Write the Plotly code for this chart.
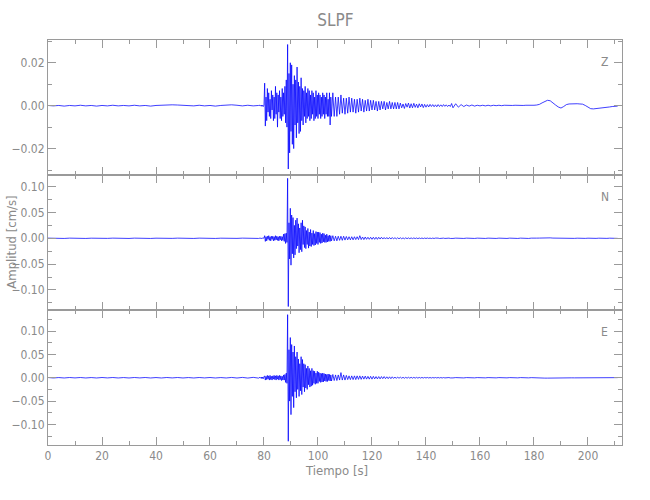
import numpy as np
import plotly.graph_objects as go
from plotly.subplots import make_subplots

# ---------------- data (amplitudes in units of 1e-3 cm/s) ----------------
# sampling segments: (start time [s], step [s])
seg_starts = [0.0, 78.5, 105.5, 130.5, 151.0]
seg_steps = [2.0, 0.25, 0.5, 0.5, 1.0]

z_A = [0.1, -0.1, 0.1, -0.2, 0.1, -0.1, 0.2, -0.1, 0.1, -0.2,
       0.1, -0.1, 0.2, -0.1, 0.1, -0.1, 0.2, -0.1, 0.1, -0.2,
       0.1, 0.3, 0.5, 0.4, 0.3, 0.2, 0.1, -0.1, 0.2, -0.1,
       0.1, -0.2, 0.1, 0.3, 0.4, 0.2, -0.1, 0.2, -0.1, 0.1]
z_B = [0.2, -0.2, 0.3, -0.3, 0.2, -0.4, 0.3,
       10.5, -9.5, 4, -7, 8, -3, 6, -5,
       3, -6, 7, -2, 5, -7, 4, -6,
       9, -4, 6, -10, 5, -3, 7, -6,
       4, -7, 8, -5, 6, -4, 9, -8,
       12, -10, 28.5, -29.5, 15, -22, 20, -12,
       19, -18, 10, -20, 14, -9, 12, -15,
       18, -8, 11, -13, 9, -12, 13, -7,
       8, -9, 7, -5, 9, -8, 6, -6,
       8, -5, 7, -7, 5, -6, 7, -4,
       6, -7, 4, -6, 7, -5, 5, -6,
       6, -4, 5, -6, 4, -5, 6, -4,
       5, -6, 4, -4, 6, -5, 3, -5,
       6, -9, 4, -5]
z_C = [6, -5, 4, -5, 4, -4, 5, -3.5, 3.5, -4,
       3.5, -3.5, 4, -3, 3.5, -3, 3, -3.5, 3, -3,
       3.5, -2.5, 3, -3, 2.5, -2.5, 3, -2.5, 2.5, -2,
       2.5, -2, 2, -2.5, 2, -2, 2, -1.5, 2, -2,
       1.5, -1.5, 2, -1.5, 1.5, -1.5, 1.5, -1.5, 1.5, -1.5]
z_D = [1.2, -1.0, 0.8, -1.3, 1.0, -0.7, 1.2, -1.1, 0.9, -1.0,
       1.1, -0.8, 0.7, -1.0, 0.9, -0.6, 0.8, -0.9, 0.6, -0.7,
       0.5, -0.6, 0.6, -0.4, 0.5, -0.5, 0.4, -0.5, 0.5, -0.4,
       0.4, -0.4, 0.5, -0.3, 0.4, -0.4, 0.3, -0.4, 1.0, -1.0]
z_E = [0.9, -0.7, 0.5, -0.4, 0.3, -0.2, 0.3, -0.2, 0.2, -0.1,
       0.2, -0.1, 0.2, -0.1, 0.2, 0.0, 0.2, 0.0, 0.2, 0.1,
       0.2, 0.1, 0.2, 0.1, 0.2, 0.1, 0.2, 0.1, 0.2, 0.2,
       0.3, 0.6, 1.3, 2.0, 2.5, 2.3, 1.5, 0.3, -0.6, -1.1,
       -0.4, 0.5, 0.8, 0.9, 0.9, 0.9, 0.8, 0.7, 0.1, -0.8,
       -1.4, -1.5, -1.4, -1.2, -1.1, -0.9, -0.7, -0.6, -0.4, -0.3,
       -0.2]

n_A = [0.3, -0.3, 0.2, -0.3, 0.3, -0.2, 0.3, -0.3, 0.2, -0.3,
       0.3, -0.2, 0.3, -0.3, 0.2, -0.3, 0.3, -0.2, 0.3, -0.3,
       0.2, -0.3, 0.3, -0.2, 0.3, -0.3, 0.2, -0.3, 0.3, -0.2,
       0.3, -0.3, 0.2, -0.3, 0.3, -0.2, 0.3, -0.3, 0.2, -0.3]
n_B = [0.3, -0.3, 0.3, -0.4, 0.3, -0.3, 0.4,
       5, -6, 3, -5, 4, -2, 5, -4,
       3, -5, 4, -2, 4, -5, 3, -4,
       5, -3, 4, -4, 3, -5, 4, -3,
       4, -5, 3, -4, 8, -6, 9, -10,
       10, -8, 116, -132, 30, -40, 58, -52,
       45, -30, 40, -38, 25, -32, 35, -20,
       39, -15, 28, -28, 20, -22, 30, -26,
       35, -12, 24, -18, 22, -20, 15, -12,
       19, -19, 12, -15, 17, -16, 10, -12,
       15, -14, 9, -13, 13, -10, 12, -12,
       12, -8, 11, -10, 8, -9, 10, -7,
       9, -8, 6, -8, 8, -7, 5, -6,
       6, -6, 5, -5]
n_C = [5, -5, 4, -5, 4, -4, 4, -4, 4, -3.5,
       3.5, -3, 3, -3, 3, -3, 3, -2.5, 3, -2.5,
       5, -2.5, 2.5, -2.5, 2.5, -2, 2, -2, 2, -2,
       2, -2, 2, -2, 2, -1.5, 2, -1.5, 1.5, -1.5,
       1.5, -1.5, 1.5, -1.5, 1.5, -1.2, 1.2, -1.2, 1, -1]
n_D = [1, -0.9, 0.8, -1, 0.9, -0.8, 0.8, -0.8, 0.7, -0.7,
       0.7, -0.6, 0.6, -0.7, 0.6, -0.5, 0.5, -0.6, 0.5, -0.5,
       0.5, -0.4, 0.4, -0.5, 0.4, -0.4, 0.4, -0.4, 0.3, -0.4,
       0.3, -0.3, 0.3, -0.3, 0.3, -0.3, 0.3, -0.3, 0.3, -0.3]
n_E = [0.3, -0.3, 0.3, -0.3, 0.3, -0.3, 0.3, -0.3, 0.3, -0.3,
       0.3, -0.3, 0.3, -0.3, 0.3, -0.3, 0.3, -0.3, 0.3, -0.3,
       0.3, -0.3, 0.3, -0.3, 0.3, -0.3, 0.3, -0.3, 0.3, -0.3,
       0.3, 0.4, 0.8, 1.0, 1.0, 0.8, 0.4, 0.2, -0.2, 0.2,
       -0.2, 0.2, -0.2, 0.2, -0.2, 0.2, -0.2, 0.2, -0.2, 0.2,
       -0.2, 0.2, -0.2, 0.2, -0.2, 0.2, -0.2, 0.2, -0.2, 0.2,
       -0.2]

e_A = [0.5, -0.5, 0.4, -0.5, 0.5, -0.4, 0.5, -0.5, 0.4, -0.5,
       0.5, -0.4, 0.5, -0.5, 0.4, -0.5, 0.5, -0.4, 0.5, -0.5,
       0.4, -0.5, 0.5, -0.4, 0.5, -0.5, 0.4, -0.5, 0.5, -0.4,
       0.5, -0.5, 0.4, -0.5, 0.6, -0.6, 0.7, -0.7, 0.8, -0.8]
e_B = [1, -1, 1.5, -2, 1.5, -2, 2,
       4, -5, 3, -4, 5, -3, 4, -5,
       5, -4, 3, -5, 4, -3, 5, -4,
       4, -5, 5, -3, 4, -5, 5, -4,
       4, -6, 3, -5, 6, -5, 7, -10,
       10, -12, 135, -136, 60, -50, 86, -79,
       71, -40, 55, -64, 68, -30, 45, -43,
       55, -25, 40, -40, 30, -28, 45, -36,
       39, -20, 30, -30, 28, -22, 20, -25,
       25, -15, 20, -20, 15, -18, 20, -16,
       15, -12, 14, -14, 10, -12, 14, -12,
       12, -8, 10, -10, 9, -9, 10, -9,
       9, -7, 8, -8, 7, -8, 8, -6,
       7, -7, 6, -7]
e_C = [7, -6, 6, -6, 6, -5, 11, -5, 6, -5,
       5, -4, 4, -4, 4, -4, 4, -4, 4, -3.5,
       4, -3.5, 3.5, -3, 3.5, -3, 3, -3, 3, -3,
       3, -2.5, 2.5, -2.5, 2.5, -2.5, 2.5, -2, 2.5, -2,
       2, -2, 2, -2, 2, -1.5, 1.5, -1.5, 1.5, -1.2]
e_D = [1.2, -1.0, 1.0, -1.1, 0.9, -1.0, 1.0, -0.9, 0.9, -0.9,
       0.8, -0.8, 0.8, -0.8, 0.7, -0.7, 0.7, -0.7, 0.6, -0.6,
       0.6, -0.6, 0.5, -0.6, 0.5, -0.5, 0.5, -0.5, 0.5, -0.5,
       0.4, -0.5, 0.4, -0.4, 0.4, -0.4, 0.4, -0.4, 0.4, -0.4]
e_E = [0.3, -0.4, 0.3, -0.4, 0.3, -0.3, 0.3, -0.3, 0.3, -0.3,
       0.3, -0.3, 0.3, -0.3, 0.3, -0.3, 0.3, -0.3, 0.3, -0.3,
       0.3, -0.3, 0.3, -0.3, 0.3, -0.3, 0.3, -0.3, 0.2, -0.3,
       0.2, -0.3, -0.5, -0.8, -0.8, -0.6, -0.4, -0.3, -0.2, 0.0,
       -0.2, -0.1, -0.3, -0.2, -0.3, -0.2, -0.3, 0.1, 0.3, 0.5,
       0.4, 0.3, 0.3, 0.2, 0.3, 0.2, 0.3, 0.2, 0.3, 0.2,
       0.2]

channels = ["Z", "N", "E"]
series = {"Z": [z_A, z_B, z_C, z_D, z_E],
          "N": [n_A, n_B, n_C, n_D, n_E],
          "E": [e_A, e_B, e_C, e_D, e_E]}
y_ranges = {"Z": [-0.0323, 0.0306], "N": [-0.1387, 0.1224], "E": [-0.144, 0.145]}
y_ticks = {"Z": [-0.02, 0.0, 0.02], "N": [-0.10, -0.05, 0.0, 0.05, 0.10],
           "E": [-0.10, -0.05, 0.0, 0.05, 0.10]}
y_minor = {"Z": 0.01, "N": 0.025, "E": 0.025}
x_ticks = [0, 20, 40, 60, 80, 100, 120, 140, 160, 180, 200]
x_range = [0, 212.6]
title = "SLPF"
x_title = "Tiempo [s]"
y_title = "Amplitud [cm/s]"

FONT = "Liberation Sans Narrow, DejaVu Sans Condensed, Arial Narrow, sans-serif"
GRAY = "#8a8a8a"
AXIS = "#9a9a9a"

fig = make_subplots(rows=3, cols=1, shared_xaxes=True, vertical_spacing=0)

for i, ch in enumerate(channels):
    ts, vs = [], []
    for seg, start, step in zip(series[ch], seg_starts, seg_steps):
        ts.append(start + step * np.arange(len(seg)))
        vs.append(np.array(seg, dtype=float) * 1e-3)
    t = np.concatenate(ts)
    v = np.concatenate(vs)
    fig.add_trace(go.Scatter(x=t, y=v, mode="lines",
                             line=dict(color="rgb(0,0,255)", width=0.75),
                             showlegend=False, hoverinfo="skip"),
                  row=i + 1, col=1)
    fig.update_yaxes(range=y_ranges[ch], tickvals=y_ticks[ch], tickformat=".2f",
                     ticks="inside", ticklen=8, tickcolor=AXIS, automargin=False,
                     showline=True, linecolor=AXIS, linewidth=1, mirror="ticks",
                     showgrid=False, zeroline=False,
                     minor=dict(dtick=y_minor[ch], tick0=0, ticks="inside", ticklen=4,
                                tickcolor=AXIS, showgrid=False),
                     tickfont=dict(family=FONT, size=12, color=GRAY),
                     row=i + 1, col=1)
    fig.update_xaxes(range=x_range, tickvals=x_ticks, automargin=False,
                     ticks="inside", ticklen=8, tickcolor=AXIS,
                     showline=True, linecolor=AXIS, linewidth=1, mirror="ticks",
                     showgrid=False, zeroline=False,
                     minor=dict(dtick=10, tick0=0, ticks="inside", ticklen=4,
                                tickcolor=AXIS, showgrid=False),
                     tickfont=dict(family=FONT, size=12, color=GRAY),
                     row=i + 1, col=1)
    yref = "y domain" if i == 0 else f"y{i + 1} domain"
    xref = "x domain" if i == 0 else f"x{i + 1} domain"
    fig.add_annotation(text=ch, x=0.97, y=0.835, xref=xref, yref=yref,
                       showarrow=False, xanchor="center", yanchor="middle",
                       font=dict(family=FONT, size=12, color=GRAY))

fig.update_xaxes(showticklabels=False, row=1, col=1)
fig.update_xaxes(showticklabels=False, row=2, col=1)

# axis titles as annotations (paper coordinates)
fig.add_annotation(text=x_title, x=0.502, y=-0.062, xref="paper", yref="paper",
                   showarrow=False, xanchor="center", yanchor="middle",
                   font=dict(family=FONT, size=13, color=GRAY))
fig.add_annotation(text=y_title, x=-0.064, y=0.5, xref="paper", yref="paper",
                   textangle=-90, showarrow=False, xanchor="center", yanchor="middle",
                   font=dict(family=FONT, size=13, color=GRAY))

fig.update_layout(
    width=650, height=500,
    margin=dict(l=48, r=28, t=40, b=55, autoexpand=False),
    paper_bgcolor="white", plot_bgcolor="white",
    title=dict(text=title, x=0.516, xanchor="center", y=0.96, yanchor="middle",
               font=dict(family=FONT, size=17, color=GRAY)),
)

fig.write_html("out.html", config={"displayModeBar": False},
               post_script="document.body.style.margin='0';document.body.style.overflow='hidden';")
